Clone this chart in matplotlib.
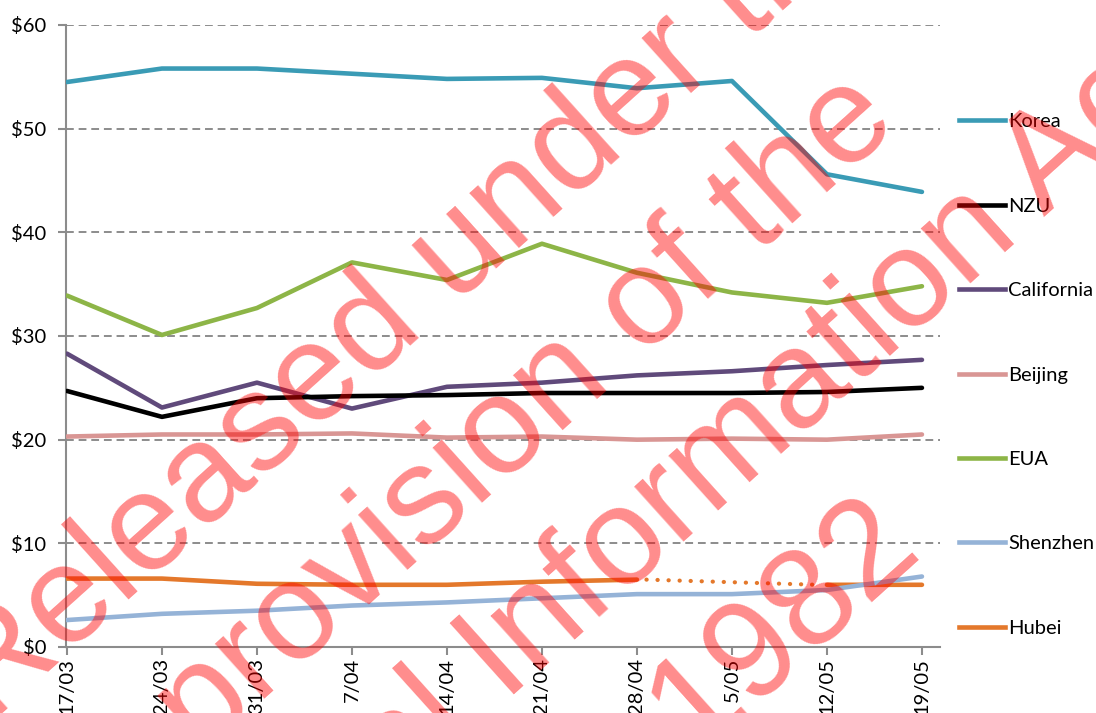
import numpy as np
import matplotlib.pyplot as plt

dates = ['17/03', '24/03', '31/03', '7/04', '14/04', '21/04', '28/04', '5/05', '12/05', '19/05']
korea = [54.5, 55.8, 55.8, 55.3, 54.8, 54.9, 53.9, 54.6, 45.6, 43.9]
nzu = [24.7, 22.2, 24.0, 24.2, 24.3, 24.5, 24.5, 24.5, 24.6, 25.0]
california = [28.3, 23.1, 25.5, 23.0, 25.1, 25.5, 26.2, 26.6, 27.2, 27.7]
beijing = [20.3, 20.5, 20.5, 20.6, 20.2, 20.3, 20.0, 20.1, 20.0, 20.5]
eua = [33.9, 30.1, 32.7, 37.1, 35.4, 38.9, 36.1, 34.2, 33.2, 34.8]
shenzhen = [2.6, 3.2, 3.5, 4.0, 4.3, 4.7, 5.1, 5.1, 5.5, 6.8]
hubei = [6.6, 6.6, 6.1, 6.0, 6.0, 6.3, 6.5, np.nan, 6.0, 6.0]

series = [('Korea', korea, '#3A9BB5'),
          ('NZU', nzu, '#000000'),
          ('California', california, '#604A7B'),
          ('Beijing', beijing, '#D99694'),
          ('EUA', eua, '#8DB547'),
          ('Shenzhen', shenzhen, '#95B3D7'),
          ('Hubei', hubei, '#E4782B')]

watermark = ['Released under the', 'provision of the', 'Official Information Act', '1982']

plt.rcParams['font.family'] = ['Lato', 'DejaVu Sans']

W, H = 1096, 713
fig = plt.figure(figsize=(W / 100, H / 100), dpi=100)
ax = fig.add_axes([66 / W, 1 - 647 / H, 874 / W, 622 / H])

x = np.arange(len(dates))
# draw bottom-up so the top series sit on top like the original
for name, vals, col in reversed(series):
    ax.plot(x, vals, color=col, lw=3.3, solid_capstyle='round', solid_joinstyle='round', zorder=3)

# Hubei gap: dotted connector between the points around the missing week
hb = np.array(hubei)
gap = np.where(np.isnan(hb))[0]
for g in gap:
    ax.plot([x[g - 1] + 0.1, x[g + 1] - 0.1], [hb[g - 1], hb[g + 1]], color='#E4782B', lw=3,
            linestyle=(0, (0.05, 2.6)), dash_capstyle='round', zorder=3)

ax.set_xlim(-0.01, 9.19)
ax.set_ylim(0, 60)
ax.set_yticks(range(0, 61, 10))
ax.set_yticklabels([f'${v}' for v in range(0, 61, 10)], fontsize=14.5)
ax.set_xticks(x)
ax.set_xticklabels(dates, rotation=90, fontsize=14.5)
ax.yaxis.grid(True, color='#8C8C8C', ls=(0, (4, 2.5)), lw=1.4)
ax.set_axisbelow(True)
for s in ['top', 'right']:
    ax.spines[s].set_visible(False)
for s in ['left', 'bottom']:
    ax.spines[s].set_color('#8C8C8C')
    ax.spines[s].set_linewidth(1.5)
ax.tick_params(axis='both', colors='#8C8C8C', labelcolor='black', length=6, width=1.5)
ax.tick_params(axis='x', pad=2)
ax.tick_params(axis='y', pad=8)

handles = [plt.Line2D([], [], color=c, lw=3.3) for _, _, c in series]
fig.legend(handles, [n for n, _, _ in series], loc='center left', bbox_to_anchor=(959 / W, 1 - 375 / H),
           frameon=False, fontsize=14.5, handlelength=2.3, handletextpad=0.15, labelspacing=3.34,
           borderpad=0, borderaxespad=0)

# watermark, four centred lines at 42 degrees
ang = np.deg2rad(42)
shift = [114, 114, 138, 164]
for i, line in enumerate(watermark):
    t, c = shift[i], 532 + 164 * i
    px = np.cos(ang) * t + np.sin(ang) * c
    py = -np.sin(ang) * t + np.cos(ang) * c
    fig.text(px / W, 1 - py / H, line, rotation=42, rotation_mode='anchor', ha='center', va='baseline',
             fontsize=100, family='Liberation Sans', color='red', alpha=0.45, zorder=10)

fig.savefig('out.png', dpi=100)
